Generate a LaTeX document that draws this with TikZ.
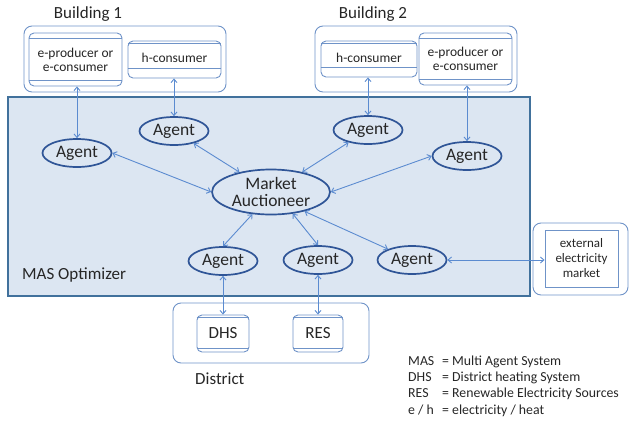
\documentclass[tikz,border=0pt]{standalone}
\usepackage{fontspec}
\setmainfont{Carlito}
\usetikzlibrary{shapes.geometric,arrows.meta,calc}
\definecolor{masfill}{HTML}{DCE6F2}
\definecolor{masline}{HTML}{41719C}
\definecolor{agline}{HTML}{2F5597}
\definecolor{conn}{HTML}{5B8BD0}
\definecolor{boxline}{HTML}{6F93C8}
\definecolor{txt}{HTML}{262626}
\begin{document}
\begin{tikzpicture}[x=1pt,y=-1pt,
  every node/.style={text=txt},
  agent/.style={ellipse,draw=agline,line width=1.7pt,fill=masfill,minimum width=69pt,minimum height=28pt,inner sep=0pt,font=\fontsize{17.5}{19}\selectfont},
  auct/.style={agent,minimum width=118pt,minimum height=45pt,align=center,font=\fontsize{17.5}{17}\selectfont},
  group/.style={draw=boxline,line width=0.9pt,rounded corners=8pt},
  unitbox/.style={draw=boxline,line width=0.9pt,rounded corners=5pt,fill=white,align=center,inner sep=0pt},
  bigtxt/.style={font=\fontsize{17}{19}\selectfont,inner sep=0pt},
  legtxt/.style={font=\fontsize{13.8}{14}\selectfont,inner sep=0pt,anchor=base west},
  link/.style={draw=conn,line width=0.9pt,>={Straight Barb[length=3.5pt,width=6pt]},<->}
]
\useasboundingbox (0,0) rectangle (629,423);

% MAS area
\draw[draw=masline,line width=1.6pt,fill=masfill] (8,97) rectangle (530,296);
\node[bigtxt,anchor=west] (maslbl) at (22,275) {MAS Optimizer};

% Building 1
\node[bigtxt] (b1lbl) at (88,14) {Building 1};
\draw[group] (24,26) rectangle (226,92);
\node[unitbox,minimum width=93pt,minimum height=53pt,font=\fontsize{13.5}{15}\selectfont] (ep1) at (75.5,59.5) {e-producer or\\[-1pt]e-consumer};
\draw[boxline,line width=0.9pt] ([yshift=-6pt]ep1.north west) -- ([yshift=-6pt]ep1.north east);
\draw[boxline,line width=0.9pt] ([yshift=6pt]ep1.south west) -- ([yshift=6pt]ep1.south east);
\node[unitbox,minimum width=93pt,minimum height=37pt,font=\fontsize{13.5}{15}\selectfont,text depth=3pt] (hc1) at (174.5,59.5) {h-consumer};
\draw[boxline,line width=0.9pt] ([yshift=-2.5pt]hc1.north west) -- ([yshift=-2.5pt]hc1.north east);
\draw[boxline,line width=0.9pt] ([yshift=10pt]hc1.south west) -- ([yshift=10pt]hc1.south east);

% Building 2
\node[bigtxt] (b2lbl) at (373,14) {Building 2};
\draw[group] (315,26) rectangle (517,92);
\node[unitbox,minimum width=96pt,minimum height=36pt,font=\fontsize{13.5}{15}\selectfont,text depth=3pt] (hc2) at (369,59) {h-consumer};
\draw[boxline,line width=0.9pt] ([yshift=-2.5pt]hc2.north west) -- ([yshift=-2.5pt]hc2.north east);
\draw[boxline,line width=0.9pt] ([yshift=10pt]hc2.south west) -- ([yshift=10pt]hc2.south east);
\node[unitbox,minimum width=93pt,minimum height=52pt,font=\fontsize{13.5}{15}\selectfont] (ep2) at (465.5,59) {e-producer or\\[-1pt]e-consumer};
\draw[boxline,line width=0.9pt] ([yshift=-6pt]ep2.north west) -- ([yshift=-6pt]ep2.north east);
\draw[boxline,line width=0.9pt] ([yshift=6pt]ep2.south west) -- ([yshift=6pt]ep2.south east);

% Agents
\node[agent] (ag1) at (77,153) {Agent};
\node[agent] (ag2) at (174,131) {Agent};
\node[agent] (ag3) at (368,130) {Agent};
\node[agent] (ag4) at (467,156) {Agent};
\node[auct] (ma) at (271,192) {Market\\Auctioneer};
\node[agent] (ag5) at (223,261) {Agent};
\node[agent] (ag6) at (318,260) {Agent};
\node[agent] (ag7) at (412,260) {Agent};

% External market
\draw[group] (533,223) rectangle (628,295);
\node[draw=boxline,line width=0.9pt,minimum width=73pt,minimum height=57pt,inner sep=0pt,align=center,font=\fontsize{13}{15}\selectfont] (ext) at (581.5,258.5) {external\\electricity\\market};

% District
\draw[group] (173,303) rectangle (369,363);
\node[unitbox,minimum width=52pt,minimum height=37pt,font=\fontsize{17}{19}\selectfont] (dhs) at (223,333.5) {DHS};
\draw[boxline,line width=0.9pt] ([yshift=-3pt]dhs.north west) -- ([yshift=-3pt]dhs.north east);
\draw[boxline,line width=0.9pt] ([yshift=4pt]dhs.south west) -- ([yshift=4pt]dhs.south east);
\node[unitbox,minimum width=50pt,minimum height=37pt,font=\fontsize{17}{19}\selectfont] (res) at (318,333.5) {RES};
\draw[boxline,line width=0.9pt] ([yshift=-3pt]res.north west) -- ([yshift=-3pt]res.north east);
\draw[boxline,line width=0.9pt] ([yshift=4pt]res.south west) -- ([yshift=4pt]res.south east);
\node[bigtxt,anchor=west] (dlbl) at (195,379) {District};

% Legend
\node[legtxt] (l1a) at (408,365.5) {MAS};
\node[legtxt] (l1b) at (442,365.5) {= Multi Agent System};
\node[legtxt] (l2a) at (408,381.5) {DHS};
\node[legtxt] (l2b) at (442,381.5) {= District heating System};
\node[legtxt] (l3a) at (408,397.8) {RES};
\node[legtxt] (l3b) at (442,397.8) {= Renewable Electricity Sources};
\node[legtxt] (l4a) at (408,414) {e / h};
\node[legtxt] (l4b) at (442,414) {= electricity / heat};

% Connectors
\draw[link] (ag1.north |- ep1.south) -- (ag1.north);
\draw[link] (ag2.north |- hc1.south) -- (ag2.north);
\draw[link] (ag3.north |- hc2.south) -- (ag3.north);
\draw[link] (ag4.north |- ep2.south) -- (ag4.north);
\draw[link] (ag1.east) -- (ma.west);
\draw[link] (ag2) -- (ma);
\draw[link] (ag3) -- (ma);
\draw[link] (ag4.west) -- (ma.east);
\draw[link] (ma.230) -- (ag5.north);
\draw[link] (ma.-45) -- (ag6.north);
\draw[link] (ma.-30) -- (ag7);
\draw[link] (ag7.east) -- (ag7.east -| ext.west);
\draw[link] (ag5.south) -- (dhs.north);
\draw[link] (ag6.south) -- (res.north);
\end{tikzpicture}
\end{document}
